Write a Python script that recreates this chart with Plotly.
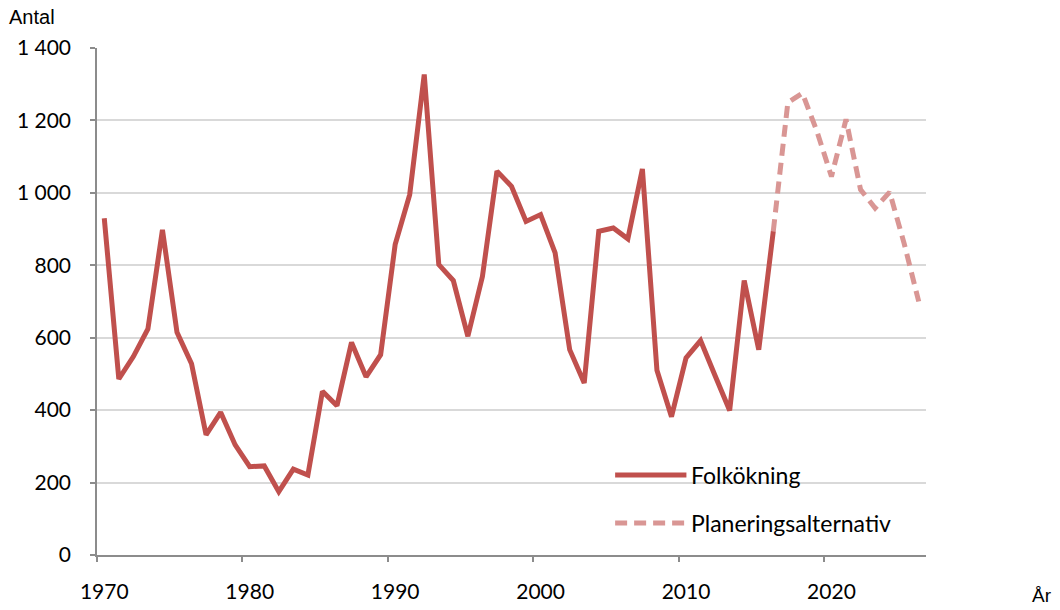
import plotly.graph_objects as go

# --- data ---
years_hist = list(range(1970, 2017))
folkokning = [930, 486, 548, 624, 898, 615, 528, 332, 394, 304,
              244, 246, 175, 237, 221, 452, 412, 587, 492, 553,
              857, 995, 1327, 802, 758, 604, 769, 1060, 1018, 921,
              940, 834, 567, 475, 894, 903, 873, 1066, 510, 382,
              544, 592, 495, 399, 758, 567, 894]

years_plan = list(range(2016, 2027))
planering = [894, 1249, 1275, 1170, 1045, 1203, 1009, 958, 1002, 860, 700]

x_tick_years = [1970, 1980, 1990, 2000, 2010, 2020]
x_ticktext = ["1970", "1980", "1990", "2000", "2010", "2020"]
y_tickvals = [0, 200, 400, 600, 800, 1000, 1200, 1400]
y_ticktext = ["0", "200", "400", "600", "800", "1 000", "1 200", "1 400"]

legend_names = ["Folkökning", "Planeringsalternativ"]

RED = "#C0504D"
PINK = "#D99694"
FONT = "Lato, Liberation Sans, sans-serif"

# points (and labels) sit in the middle of each year's category
def mid(ys):
    return [y + 0.5 for y in ys]

fig = go.Figure()
fig.add_trace(go.Scatter(
    x=mid(years_plan), y=planering, mode="lines", name=legend_names[1],
    line=dict(color=PINK, width=5, dash="12px,7px"), showlegend=False))
fig.add_trace(go.Scatter(
    x=mid(years_hist), y=folkokning, mode="lines", name=legend_names[0],
    line=dict(color=RED, width=5), showlegend=False))

# manual legend (long line samples as in the original)
legend_items = [(legend_names[0], RED, "solid", 0.158), (legend_names[1], PINK, "12px,7px", 0.063)]
for name, col, dash, yp in legend_items:
    fig.add_shape(type="line", xref="paper", yref="paper",
                  x0=0.625, x1=0.711, y0=yp, y1=yp,
                  line=dict(color=col, width=5, dash=dash))
    fig.add_annotation(xref="paper", yref="paper", x=0.714, y=yp, text=name,
                       showarrow=False, xanchor="left", yanchor="middle",
                       font=dict(family=FONT, size=23, color="black"))

fig.add_annotation(xref="paper", yref="paper", x=-0.108, y=1.035, text="Antal",
                   showarrow=False, xanchor="left", yanchor="bottom",
                   font=dict(family="Liberation Sans, Arial, sans-serif", size=20, color="black"))
fig.add_annotation(xref="paper", yref="paper", x=1.126, y=-0.055, text="År",
                   showarrow=False, xanchor="left", yanchor="top",
                   font=dict(family="Liberation Sans, Arial, sans-serif", size=19, color="black"))

fig.update_layout(
    width=1060, height=610,
    margin=dict(l=97, r=134, t=48, b=55),
    plot_bgcolor="white", paper_bgcolor="white",
    font=dict(family=FONT, size=21, color="black"),
    showlegend=False,
)
fig.update_xaxes(
    range=[1970, 2027], tickvals=mid(x_tick_years), ticktext=x_ticktext,
    showgrid=False, zeroline=False, showline=True, linecolor="#8c8c8c", linewidth=1.5,
    ticks="", ticklabelstandoff=17, automargin=False,
    minor=dict(tickvals=x_tick_years, ticks="outside", ticklen=5,
               tickcolor="#8c8c8c", tickwidth=1.5, showgrid=False),
)
fig.update_yaxes(
    range=[0, 1400], tickvals=y_tickvals, ticktext=y_ticktext,
    showgrid=True, gridcolor="#d9d9d9", gridwidth=1.5, zeroline=False,
    showline=True, linecolor="#8c8c8c", linewidth=1.5,
    ticks="outside", ticklen=5, tickcolor="#8c8c8c", tickwidth=1.5,
    ticklabelstandoff=15, automargin=False,
)

fig.write_html("out.html", config={"displayModeBar": False})

# remove default page margin so the figure sits at the window's corner
with open("out.html", "r", encoding="utf-8") as f:
    html = f.read()
html = html.replace("<head>", "<head><style>html,body{margin:0;padding:0;}</style>", 1)
with open("out.html", "w", encoding="utf-8") as f:
    f.write(html)
